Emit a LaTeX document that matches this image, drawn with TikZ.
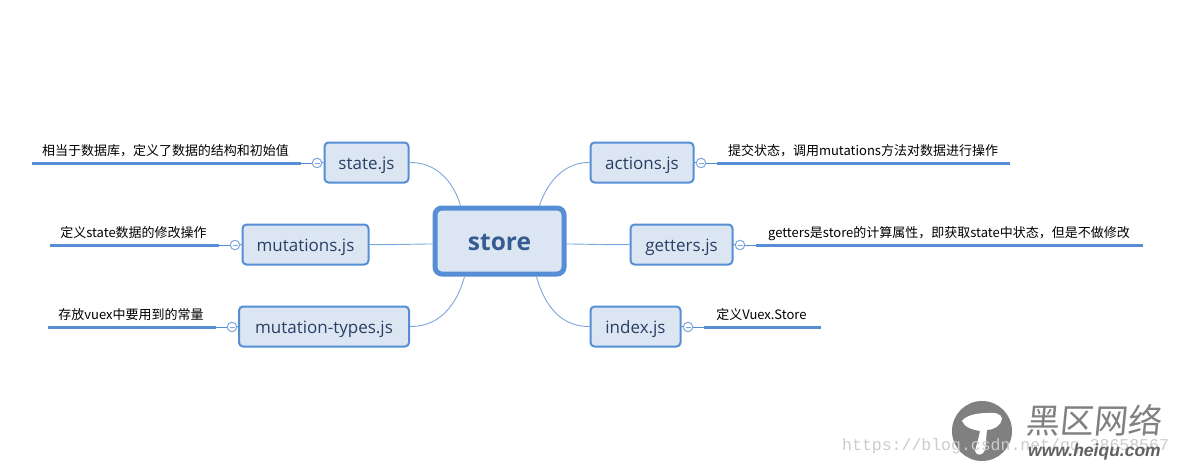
\documentclass[tikz,border=0pt]{standalone}
\usepackage{fontspec}
\setmainfont{Open Sans}
\newfontfamily\cjk{Noto Sans CJK SC}
\newfontfamily\wmono{Liberation Mono}
\newfontfamily\warial{Liberation Sans}
\usetikzlibrary{calc}
\definecolor{edgeblue}{HTML}{558ED5}
\definecolor{linkblue}{HTML}{7FA6DC}
\definecolor{fillblue}{HTML}{DCE6F2}
\definecolor{inkblue}{HTML}{2A3F66}
\definecolor{rootink}{HTML}{375C92}
\definecolor{markgray}{HTML}{808080}
\tikzset{
  x=1pt,y=-1pt,
  topicbox/.style={draw=edgeblue,fill=fillblue,line width=2pt,rounded corners=4pt,inner sep=0pt,
    text=inkblue,font=\fontsize{17}{20}\selectfont,minimum height=40pt,text height=16pt,text depth=3pt},
  rootbox/.style={draw=edgeblue,fill=fillblue,line width=5pt,rounded corners=7pt,inner sep=0pt,
    text=rootink,font=\fontsize{24.5}{28}\selectfont\bfseries,minimum width=129pt,minimum height=66pt,text height=22pt,text depth=4pt},
  foldmark/.style={circle,draw=linkblue,fill=white,line width=1pt,minimum size=9.5pt,inner sep=0pt},
  noteline/.style={draw=edgeblue,line width=3pt},
  stemline/.style={draw=edgeblue,line width=.8pt},
  notetext/.style={text=black,inner sep=0pt,font=\cjk\fontsize{13}{15}\selectfont,text height=12pt,text depth=2pt},
  linkline/.style={draw=linkblue,line width=.9pt},
}
\newcommand{\foldminus}[1]{\draw[linkblue,line width=.7pt] ($(#1)+(-2.5,0)$) -- ($(#1)+(2.5,0)$);}
\begin{document}
\begin{tikzpicture}
\useasboundingbox (0,0) rectangle (1184,466);
\fill[white] (0,0) rectangle (1184,466);

% watermark
\node[circle,fill=markgray,minimum size=60pt,inner sep=0pt] (wmdisc) at (982,431) {};
\fill[white] (962,421) .. controls (966,415) and (978,413) .. (987,413)
  .. controls (995,412) and (1002,414) .. (1002,419)
  .. controls (1001,426) and (993,430) .. (987,430)
  .. controls (986,438) and (986,446) .. (985,450)
  .. controls (983,456) and (976,456) .. (975,451)
  .. controls (976,446) and (979,438) .. (980,431)
  .. controls (973,430) and (964,427) .. (962,421) -- cycle;
\node[inner sep=0pt,text=markgray,font=\cjk\fontsize{34}{36}\selectfont,xslant=.1] (wmname) at (1095,420) {黑区网络};
\node[inner sep=0pt,anchor=west,text=black!20,font=\wmono\fontsize{16.5}{18}\selectfont] (wmurl) at (842,446) {https://blog.csdn.net/qq\_38658567};
\node[inner sep=0pt,text=black!62,anchor=west,font=\warial\bfseries\itshape\fontsize{17.5}{19}\selectfont] (wmsite) at (1028,452) {www.heiqu.com};

% topics
\node[rootbox] (store) at (499.5,241) {store};
\node[topicbox,minimum width=84pt] (state) at (366.5,162.5) {state.js};
\node[topicbox,minimum width=126pt] (mutations) at (305.5,244.5) {mutations.js};
\node[topicbox,minimum width=170pt] (types) at (324,326.5) {mutation-types.js};
\node[topicbox,minimum width=103pt] (actions) at (642,162.5) {actions.js};
\node[topicbox,minimum width=102pt] (getters) at (681.5,244.5) {getters.js};
\node[topicbox,minimum width=90pt] (index) at (635.5,326.5) {index.js};

% links to the root
\draw[linkline] (state.east) .. controls (435,162) and (453,180) .. ($(store.north west)+(28,0)$);
\draw[linkline] (mutations.east) .. controls (390,245) and (415,244) .. ($(store.west)+(0,3)$);
\draw[linkline] (types.east) .. controls (437,327) and (456,308) .. ($(store.south west)+(32,0)$);
\draw[linkline] (actions.west) .. controls (566,162) and (548,180) .. ($(store.north east)+(-27,0)$);
\draw[linkline] (getters.west) .. controls (605,245) and (585,244) .. ($(store.east)+(0,3)$);
\draw[linkline] (index.west) .. controls (563,327) and (545,308) .. ($(store.south east)+(-30,0)$);

% fold marks
\node[foldmark] (fs) at (317,163) {};
\node[foldmark] (fm) at (235,245) {};
\node[foldmark] (ft) at (232,327) {};
\node[foldmark] (fa) at (701,163) {};
\node[foldmark] (fg) at (740,245) {};
\node[foldmark] (fi) at (688,327) {};
\foreach \f in {fs,fm,ft,fa,fg,fi}{\foldminus{\f}}
\draw[stemline] (state.west) -- (fs);
\draw[stemline] (mutations.west) -- (fm);
\draw[stemline] (types.west) -- (ft);
\draw[stemline] (actions.east) -- (fa);
\draw[stemline] (getters.east) -- (fg);
\draw[stemline] (index.east) -- (fi);

% note lines
\coordinate (ls0) at (32,163);   \coordinate (ls1) at (301,163);
\coordinate (lm0) at (50,245);   \coordinate (lm1) at (219,245);
\coordinate (lt0) at (48,327);   \coordinate (lt1) at (216,327);
\coordinate (la0) at (717,163);  \coordinate (la1) at (1010,163);
\coordinate (lg0) at (756,245);  \coordinate (lg1) at (1143,245);
\coordinate (li0) at (704,327);  \coordinate (li1) at (821,327);
\draw[stemline] (fs) -- (ls1);
\draw[stemline] (fm) -- (lm1);
\draw[stemline] (ft) -- (lt1);
\draw[stemline] (fa) -- (la0);
\draw[stemline] (fg) -- (lg0);
\draw[stemline] (fi) -- (li0);
\draw[noteline] (ls0) -- (ls1);
\draw[noteline] (lm0) -- (lm1);
\draw[noteline] (lt0) -- (lt1);
\draw[noteline] (la0) -- (la1);
\draw[noteline] (lg0) -- (lg1);
\draw[noteline] (li0) -- (li1);

% note texts
\node[notetext] (ns) at (165.5,150) {相当于数据库，定义了数据的结构和初始值};
\node[notetext] (nm) at (133.5,232) {定义state数据的修改操作};
\node[notetext] (nt) at (131,314) {存放vuex中要用到的常量};
\node[notetext] (na) at (863,150) {提交状态，调用mutations方法对数据进行操作};
\node[notetext] (ng) at (949,232) {getters是store的计算属性，即获取state中状态，但是不做修改};
\node[notetext] (ni) at (761.5,314) {定义Vuex.Store};
\end{tikzpicture}
\end{document}
